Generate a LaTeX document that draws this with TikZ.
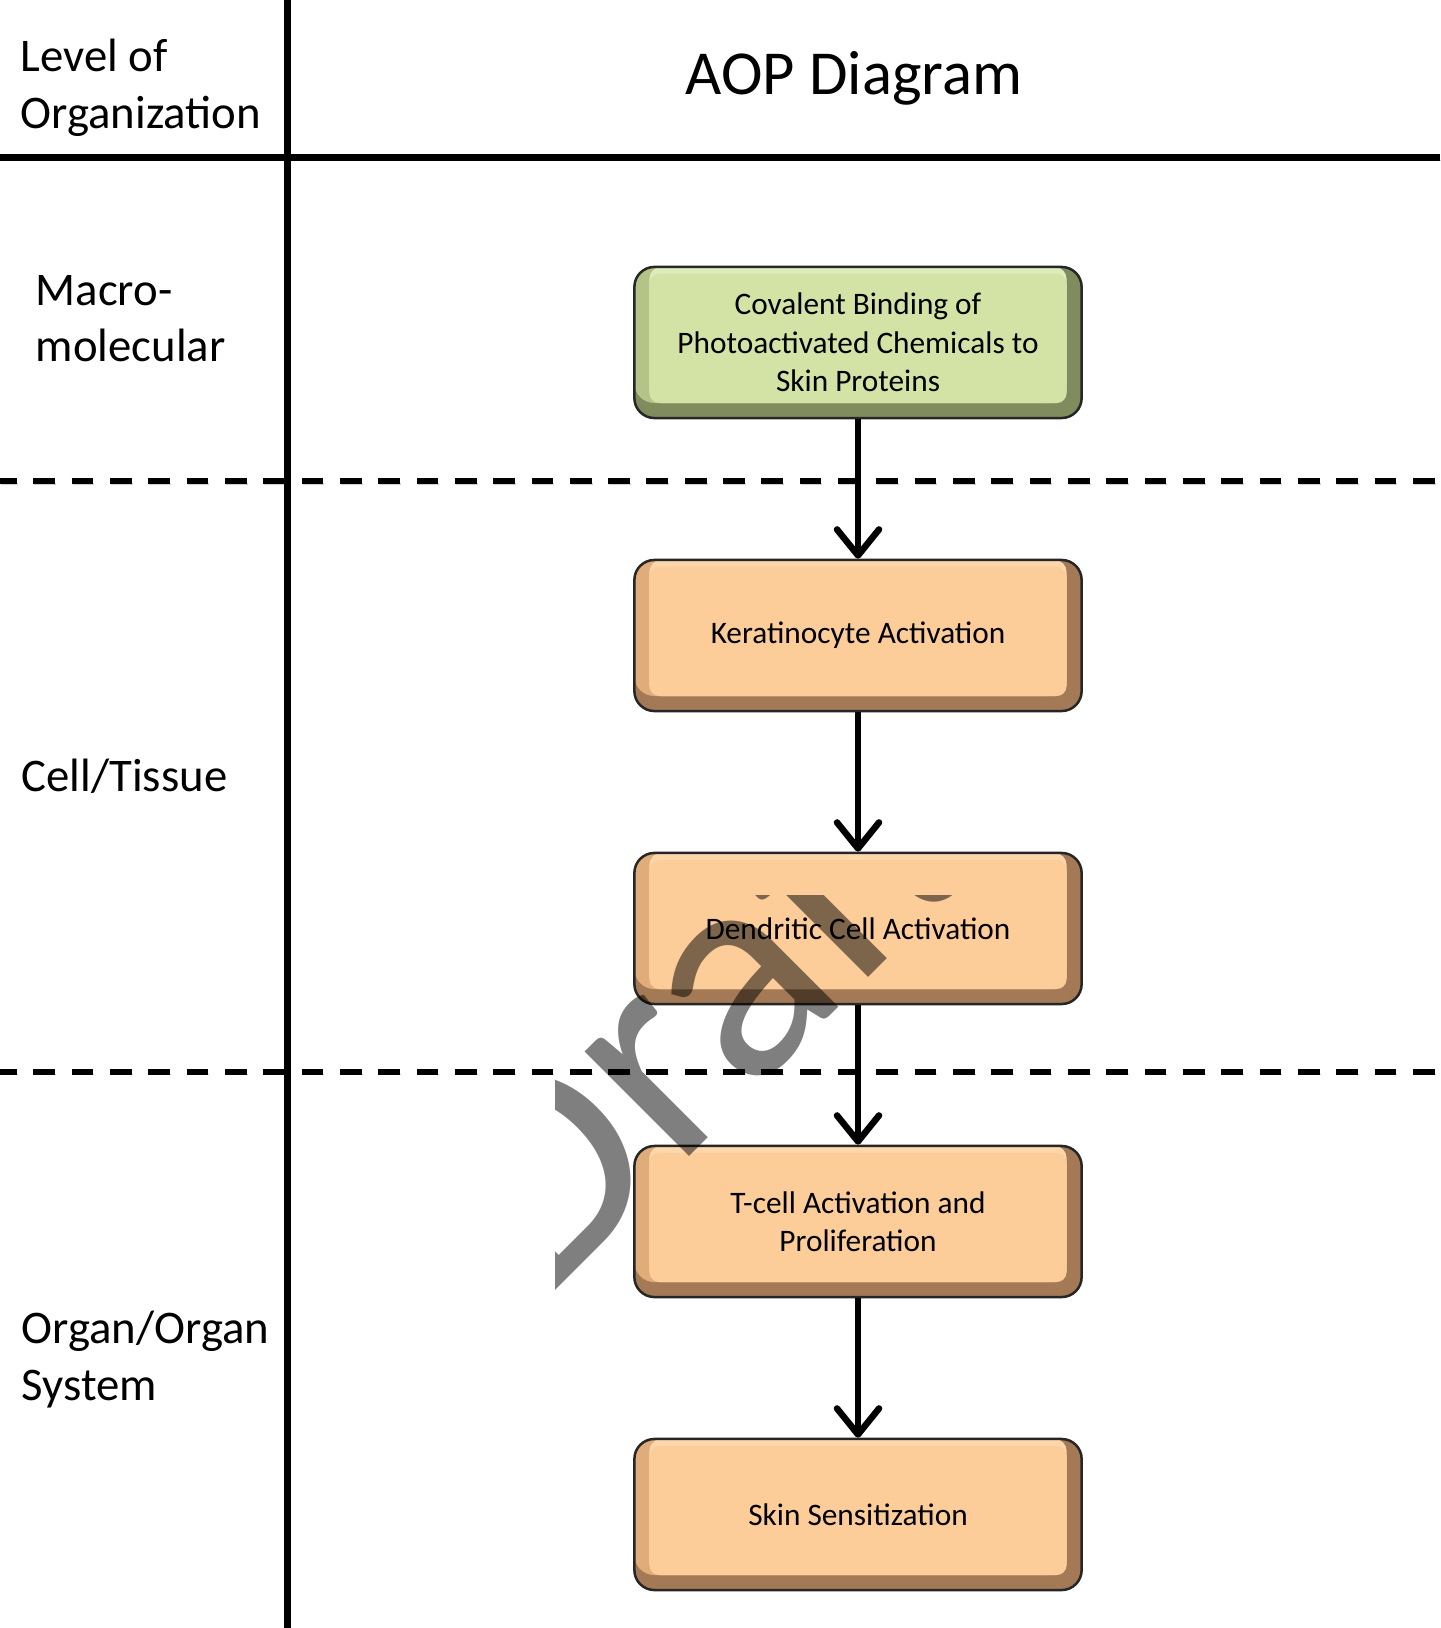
\documentclass[tikz,border=0pt]{standalone}
\usepackage{fontspec}
\setmainfont{Carlito}
\usetikzlibrary{arrows.meta}

\definecolor{orangeface}{RGB}{252,204,153}
\definecolor{orangelight}{RGB}{253,214,172}
\definecolor{orangeside}{RGB}{224,172,122}
\definecolor{orangedark}{RGB}{164,122,86}
\definecolor{greenface}{RGB}{210,227,165}
\definecolor{greenlight}{RGB}{222,235,186}
\definecolor{greenside}{RGB}{180,196,136}
\definecolor{greendark}{RGB}{128,140,94}

\newcommand\levelfont{\fontsize{13.3}{16.1}\selectfont}
\newcommand\titlefont{\fontsize{17.8}{21.5}\selectfont}
\newcommand\boxfont{\fontsize{8.9}{10.9}\selectfont}
\newcommand\stampfont{\fontsize{88}{88}\selectfont}

\tikzset{
  levelrule/.style={line width=0.075cm,
    preaction={draw=black!18, transform canvas={shift={(0.01cm,-0.03cm)}}}},
  levelsplit/.style={line width=0.06cm, dash pattern=on 0.217cm off 0.166cm, dash phase=0.05cm,
    preaction={draw=black!18, dash pattern=on 0.217cm off 0.166cm, dash phase=0.05cm,
      transform canvas={shift={(0.01cm,-0.03cm)}}}},
  leveltext/.style={anchor=base west, inner sep=0, align=left, font=\levelfont},
  keybox/.style={draw=black!85, line width=0.025cm, rounded corners=0.2cm,
    minimum width=4.47cm, minimum height=1.51cm, inner sep=0, align=center,
    font=\boxfont, fill=#1dark,
    path picture={
      \coordinate (ppsw) at (path picture bounding box.south west);
      \coordinate (ppne) at (path picture bounding box.north east);
      \fill[#1side, rounded corners=0.2cm] ([yshift=0.15cm]ppsw) rectangle ([xshift=-0.15cm]ppne);
      \fill[#1light, rounded corners=0.12cm] ([shift={(0.15cm,0.15cm)}]ppsw) rectangle ([xshift=-0.15cm]ppne);
      \fill[#1face, rounded corners=0.1cm] ([shift={(0.15cm,0.15cm)}]ppsw) rectangle ([shift={(-0.15cm,-0.07cm)}]ppne);
    }},
  flow/.style={line width=0.065cm,
    -{Straight Barb[length=0.26cm, width=0.42cm, line cap=round, line join=round]},
    preaction={draw=black!15, transform canvas={shift={(0.015cm,-0.025cm)}}}},
  stamp/.style={rotate=45, anchor=base west, inner sep=0, font=\stampfont, text=black, text opacity=0.5},
}

\begin{document}
\begin{tikzpicture}[x=0.01cm, y=-0.01cm]
  \useasboundingbox (0,0) rectangle (1440,1628);
  \coordinate (rulew) at (0,157.5);
  \coordinate (rulee) at (1440,157.5);
  \coordinate (coltop) at (287.6,0);
  \coordinate (colbot) at (287.6,1628);
  \coordinate (splitaw) at (0,481);
  \coordinate (splitae) at (1440,481);
  \coordinate (splitbw) at (0,1071.5);
  \coordinate (splitbe) at (1440,1071.5);

  \draw[levelsplit] (splitaw) -- (splitae);
  \draw[levelsplit] (splitbw) -- (splitbe);
  \draw[levelrule] (rulew) -- (rulee);
  \draw[levelrule] (coltop) -- (colbot);

  \node[leveltext] (levhead) at (20,128.3) {Level of\\Organization};
  \node[anchor=base, inner sep=0, font=\titlefont] (aophead) at (854,95) {AOP Diagram};
  \node[leveltext] (macro) at (35,361.7) {Macro-\\molecular};
  \node[leveltext] (cell) at (21,791.7) {Cell/Tissue};
  \node[leveltext] (organ) at (21,1400) {Organ/Organ\\System};

  \node[keybox=green] (cb) at (858,342.5) {Covalent Binding of\\Photoactivated Chemicals to\\Skin Proteins};
  \node[keybox=orange] (kc) at (858,635.5) {Keratinocyte Activation};
  \node[keybox=orange] (dc) at (858,928.5) {Dendritic Cell Activation};
  \node[keybox=orange] (tc) at (858,1221.5) {T-cell Activation and\\Proliferation};
  \node[keybox=orange] (ss) at (858,1514.5) {Skin Sensitization};

  \begin{scope}[flow]
    \draw (cb) -- (kc);
    \draw (kc) -- (dc);
    \draw (dc) -- (tc);
    \draw (tc) -- (ss);
  \end{scope}

  \begin{scope}
    \clip (555,895) rectangle (1440,1628);
    \node[stamp] (draft) at (540,1306) {Draft};
  \end{scope}
\end{tikzpicture}
\end{document}
